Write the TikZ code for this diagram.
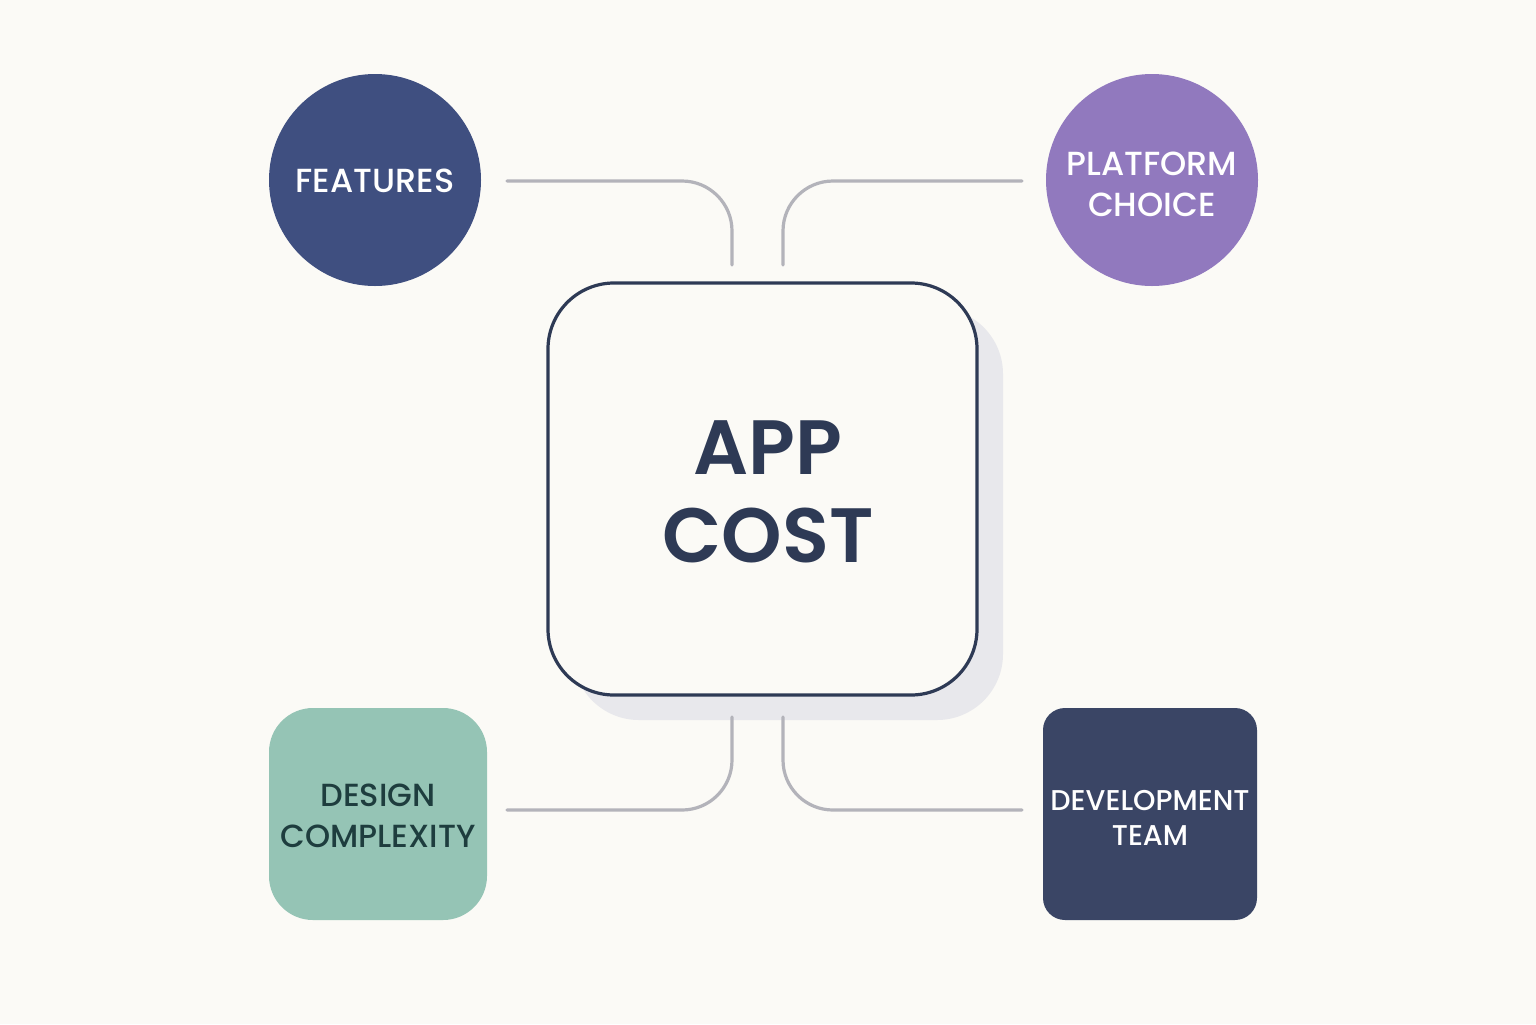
\documentclass[tikz,border=0pt]{standalone}
\usepackage{fontspec}
\setmainfont{Poppins}
\newfontfamily\popmed{Poppins Medium}
\newfontfamily\popsemi{Poppins SemiBold}
\definecolor{bgc}{HTML}{FBFAF6}
\definecolor{featc}{HTML}{3F4F80}
\definecolor{platc}{HTML}{9179BE}
\definecolor{desc}{HTML}{95C4B5}
\definecolor{destxt}{HTML}{1E3D3E}
\definecolor{devc}{HTML}{3A4565}
\definecolor{navy}{HTML}{2E3A55}
\definecolor{linec}{HTML}{B3B3BA}
\definecolor{shadc}{HTML}{E8E8EC}
\begin{document}
\begin{tikzpicture}[x=0.5pt,y=-0.5pt,
  bubble/.style={circle,minimum size=106pt,inner sep=0pt},
  tile/.style={rectangle,inner sep=0pt,minimum height=106pt},
  lbl/.style={align=center,inner sep=0pt,font=\popmed\fontsize{16.7}{20.5}\selectfont},
  conn/.style={draw=linec,line width=1.6pt,line cap=round,rounded corners=25pt}]
\fill[bgc] (0,0) rectangle (1536,1024);
\useasboundingbox (0,0) rectangle (1536,1024);
% shadow
\fill[shadc,rounded corners=33pt] (573,308) rectangle (1003,720);
% central box
\node[draw=navy,line width=1.6pt,fill=bgc,rounded corners=33pt,minimum width=214.5pt,minimum height=206pt,inner sep=0pt] (cost) at (762.5,489) {};
\node[text=navy,align=center,font=\popsemi\fontsize{38.5}{44}\selectfont] (costtxt) at (768,492) {APP\\COST};
% satellites
\node[bubble,fill=featc] (feat) at (375,180) {};
\node[lbl,text=white] (feattxt) at (feat) [yshift=-0.5pt] {FEATURES};
\node[bubble,fill=platc] (plat) at (1152,180) {};
\node[lbl,text=white] (plattxt) at (plat) [yshift=-2pt] {PLATFORM\\CHOICE};
\node[tile,fill=desc,rounded corners=22pt,minimum width=109pt] (des) at (378,814) {};
\node[lbl,text=destxt,font=\popmed\fontsize{16}{20.5}\selectfont] (destxt) at (des) [yshift=-1pt] {DESIGN\\COMPLEXITY};
\node[tile,fill=devc,rounded corners=11pt,minimum width=107pt] (dev) at (1150,814) {};
\node[lbl,text=white,font=\popmed\fontsize{14.3}{17.5}\selectfont] (devtxt) at (dev) [yshift=-2pt] {DEVELOPMENT\\TEAM};
% connector ends
\coordinate (f1) at (507,181);
\coordinate (f2) at (732,265);
\coordinate (p1) at (1022,181);
\coordinate (p2) at (783,265);
\coordinate (d1) at (732,717);
\coordinate (d2) at (507,810);
\coordinate (e1) at (783,717);
\coordinate (e2) at (1022,810);
\draw[conn] (f1) -| (f2);
\draw[conn] (p1) -| (p2);
\draw[conn] (d1) |- (d2);
\draw[conn] (e1) |- (e2);
\end{tikzpicture}
\end{document}
